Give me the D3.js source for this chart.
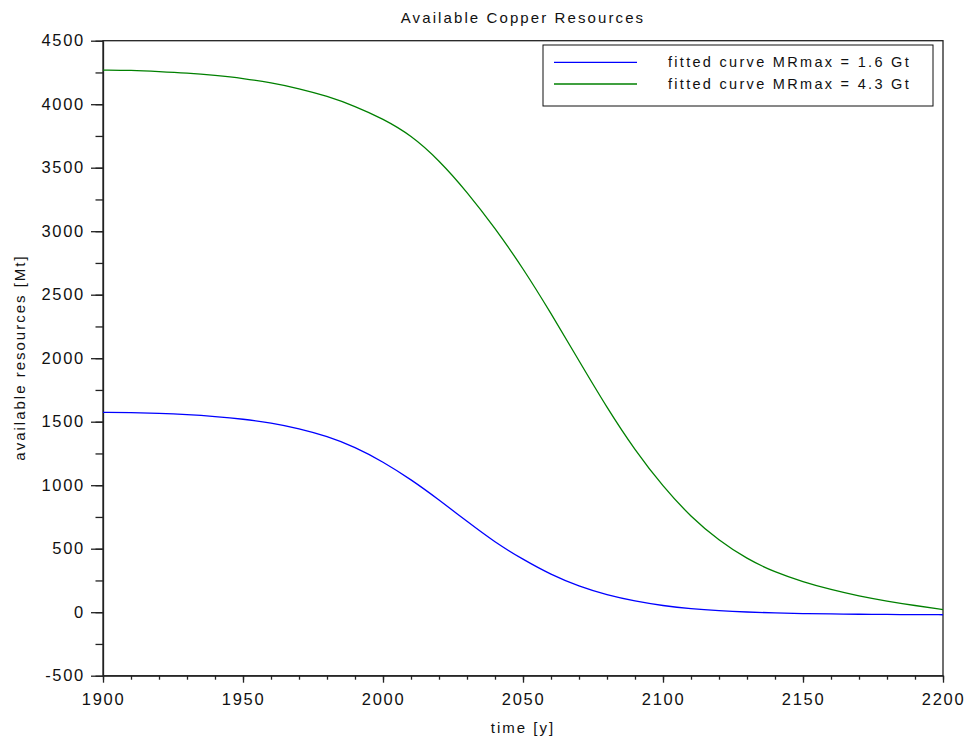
<!DOCTYPE html>
<html lang="en">
<head>
<meta charset="utf-8">
<title>Available Copper Resources</title>
<script src="https://d3js.org/d3.v7.min.js"></script>
<style>
	body { margin: 0; background: #fff; }
	svg { display: block; }
	text { font-family: "Liberation Sans", Arial, sans-serif; fill: #111; }
	.tick-label text { font-size: 16.5px; letter-spacing: 1.7px; }
	.axis path, .axis line { stroke: #222; stroke-width: 1.3px; }
	.curve { fill: none; stroke-width: 1.3px; }
</style>
</head>
<body>
<div id="chart"></div>
<script>

var years = [1900, 1910, 1920, 1930, 1940, 1950, 1960, 1970, 1980, 1990,
	2000, 2010, 2020, 2030, 2040, 2050, 2060, 2070, 2080, 2090,
	2100, 2110, 2120, 2130, 2140, 2150, 2160, 2170, 2180, 2190, 2200];

// fitted curve MRmax = 1.6 Gt  [Mt]
var lowCurve = [1574, 1572, 1566, 1556, 1541, 1521, 1491, 1446, 1386, 1301,
	1185, 1045, 885, 715, 550, 415, 295, 203, 135, 87,
	51, 26, 11, 1, -6, -11, -14, -16, -18, -19, -20];

// fitted curve MRmax = 4.3 Gt  [Mt]
var highCurve = [4269, 4267, 4257, 4245, 4227, 4204, 4169, 4124, 4064, 3985,
	3885, 3757, 3560, 3310, 3025, 2709, 2354, 1979, 1609, 1274,
	989, 749, 564, 419, 314, 239, 177, 127, 87, 52, 21];

var seriesNames = ["fitted curve MRmax = 1.6 Gt", "fitted curve MRmax = 4.3 Gt"];
var seriesColors = ["#0000ff", "#008000"];

var xTicks = [1900, 1950, 2000, 2050, 2100, 2150, 2200];
var yTicks = [-500, 0, 500, 1000, 1500, 2000, 2500, 3000, 3500, 4000, 4500];

var W = 965, H = 740;
var plotLeft = 103, plotRight = 943, plotTop = 40.7, plotBottom = 675.7;

var svg = d3.select("#chart").append("svg")
	.attr("width", W)
	.attr("height", H);

var x = d3.scaleLinear().domain([1900, 2200]).range([plotLeft, plotRight]);
var y = d3.scaleLinear().domain([-500, 4500]).range([plotBottom, plotTop]);

// minor ticks (every 10 years / every 250 Mt)
svg.append("g")
	.attr("class", "axis")
	.attr("transform", "translate(0," + plotBottom + ")")
	.call(d3.axisBottom(x).tickValues(d3.range(1900, 2201, 10)).tickSize(4).tickFormat(""))
	.call(g => g.select(".domain").remove());
svg.append("g")
	.attr("class", "axis")
	.attr("transform", "translate(" + plotLeft + ",0)")
	.call(d3.axisLeft(y).tickValues(d3.range(-500, 4501, 250)).tickSize(7.5).tickFormat(""))
	.call(g => g.select(".domain").remove());

// major ticks with labels (plain hyphen for negatives, like the original)
svg.append("g")
	.attr("class", "axis tick-label")
	.attr("transform", "translate(0," + plotBottom + ")")
	.call(d3.axisBottom(x).tickValues(xTicks).tickSize(7).tickSizeOuter(0).tickPadding(11).tickFormat(String));
svg.append("g")
	.attr("class", "axis tick-label")
	.attr("transform", "translate(" + plotLeft + ",0)")
	.call(d3.axisLeft(y).tickValues(yTicks).tickSize(12).tickSizeOuter(0).tickPadding(6).tickFormat(String));

// box around plot area
svg.append("rect")
	.attr("x", plotLeft)
	.attr("y", plotTop)
	.attr("width", plotRight - plotLeft)
	.attr("height", plotBottom - plotTop)
	.attr("fill", "none")
	.attr("stroke", "#222")
	.attr("stroke-width", 1.3);

// curves (basis spline smooths out small reading errors)
var line = d3.line()
	.x(function (d, i) { return x(years[i]); })
	.y(function (d) { return y(d); })
	.curve(d3.curveBasis);

[lowCurve, highCurve].forEach(function (vals, i) {
	svg.append("path")
		.datum(vals)
		.attr("class", "curve")
		.attr("stroke", seriesColors[i])
		.attr("d", line);
});

// legend
var legend = svg.append("g").attr("transform", "translate(543,45)");
legend.append("rect")
	.attr("width", 390)
	.attr("height", 61)
	.attr("fill", "#fff")
	.attr("stroke", "#111")
	.attr("stroke-width", 1);
seriesNames.forEach(function (name, i) {
	var ly = 17.3 + i * 21.7;
	legend.append("line")
		.attr("x1", 11).attr("x2", 94)
		.attr("y1", ly).attr("y2", ly)
		.attr("stroke", seriesColors[i])
		.attr("stroke-width", 1.3);
	legend.append("text")
		.attr("x", 125)
		.attr("y", ly + 5)
		.style("font-size", "14.5px")
		.style("letter-spacing", "2.3px")
		.text(name);
});

// title and axis labels
svg.append("text")
	.attr("x", (plotLeft + plotRight) / 2)
	.attr("y", 23)
	.attr("text-anchor", "middle")
	.style("font-size", "15px")
	.style("letter-spacing", "2.1px")
	.text("Available Copper Resources");

svg.append("text")
	.attr("x", (plotLeft + plotRight) / 2)
	.attr("y", 733)
	.attr("text-anchor", "middle")
	.style("font-size", "15px")
	.style("letter-spacing", "2px")
	.text("time [y]");

svg.append("text")
	.attr("transform", "translate(25,357.5) rotate(-90)")
	.attr("text-anchor", "middle")
	.style("font-size", "15px")
	.style("letter-spacing", "2px")
	.text("available resources [Mt]");

</script>
</body>
</html>
